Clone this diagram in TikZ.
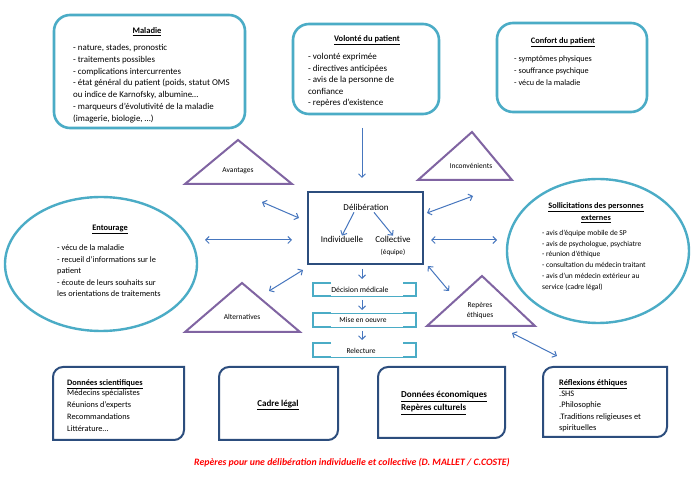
\documentclass[tikz,border=0pt]{standalone}
\usepackage{fontspec}
\setmainfont{Carlito}
\usetikzlibrary{arrows.meta,shapes.geometric}
\definecolor{myteal}{RGB}{75,172,198}
\definecolor{mypurple}{RGB}{128,100,162}
\definecolor{mynavy}{RGB}{44,77,125}
\definecolor{myblue}{RGB}{70,118,190}
\newcommand{\fsz}[1]{\fontsize{#1}{#1}\selectfont}
\newcommand{\txtlines}[6]{%
  \foreach \t [count=\i] in {#6} \node[txt, font=\fsz{#5}] (#1\i) at (#2, #3+\i*#4-#4) {\t};}
\newcommand{\tlbrbox}[4]{%
  \draw[botbox] (#1,#4) -- (#1,#2+10) .. controls (#1,#2+4.5) and (#1+4.5,#2) .. (#1+10,#2)
   -- (#3,#2) -- (#3,#4-10) .. controls (#3,#4-4.5) and (#3-4.5,#4) .. (#3-10,#4) -- cycle;}
\newcommand{\brk}[4]{% x1 x2 y1 y2
  \draw[brthick] (#1+18,#3) -- (#1,#3) -- (#1,#4) -- (#1+18,#4);
  \draw[brthick] (#2-13,#3) -- (#2,#3) -- (#2,#4) -- (#2-13,#4);
  \draw[brthin] (#1+18,#4) -- (#2-13,#4);}
\begin{document}
\begin{tikzpicture}[x=1pt,y=-1pt,
  topbox/.style={draw=myteal, line width=2.6pt, rounded corners=16pt, inner sep=0pt},
  ell/.style={draw=myteal, line width=2.4pt, ellipse, inner sep=0pt},
  tri/.style={draw=mypurple, line width=2pt, line join=miter},
  botbox/.style={draw=mynavy, line width=2pt},
  brthick/.style={draw=myteal, line width=1.8pt},
  brthin/.style={draw=myteal, line width=0.6pt},
  arr/.style={draw=myblue, line width=1pt, -{Straight Barb[length=3.5pt,width=7pt]}},
  darr/.style={draw=myblue, line width=1pt, {Straight Barb[length=3.5pt,width=7pt]}-{Straight Barb[length=3.5pt,width=7pt]}},
  txt/.style={inner sep=0pt, anchor=base west},
  ctxt/.style={inner sep=0pt, anchor=base},
  lbl/.style={inner sep=0pt, font=\fsz{7.5}},
]
\useasboundingbox (0,0) rectangle (697,486);
\fill[white] (0,0) rectangle (697,486);

% top boxes
\node[topbox, minimum width=191pt, minimum height=113pt] (maladie) at (149.5,71.5) {};
\node[topbox, minimum width=146pt, minimum height=90pt] (volonte) at (366,69) {};
\node[topbox, minimum width=150pt, minimum height=89pt] (confort) at (572,67.5) {};

\node[ctxt, font=\fsz{8.5}] (tmal) at (147,33.8) {\underline{\textbf{Maladie}}};
\txtlines{mal}{73}{50.9}{11.7}{8.9}{{- nature, stades, pronostic},{- traitements possibles},{- complications intercurrentes},{- état général du patient (poids, statut OMS},{ou indice de Karnofsky, albumine…},{- marqueurs d’évolutivité de la maladie},{(imagerie, biologie, …)}}

\node[ctxt, font=\fsz{8.5}] (tvol) at (367,41.8) {\underline{\textbf{Volonté du patient}}};
\txtlines{vol}{308}{59.9}{11.5}{9}{{- volonté exprimée},{- directives anticipées},{- avis de la personne de},{confiance},{- repères d’existence}}

\node[ctxt, font=\fsz{8.4}] (tcon) at (563,43.8) {\underline{\textbf{Confort du patient}}};
\txtlines{con}{514}{61.7}{12}{8.2}{{- symptômes physiques},{- souffrance psychique},{- vécu de la maladie}}

% ellipses
\node[ell, minimum width=192pt, minimum height=134pt] (entourage) at (101,264) {};
\node[ctxt, font=\fsz{8.4}] (tent) at (110,230.8) {\underline{\textbf{Entourage}}};
\txtlines{ent}{57}{250.7}{11.5}{8.3}{{- vécu de la maladie},{- recueil d’informations sur le},{patient},{- écoute de leurs souhaits sur},{les orientations de traitements}}

\node[ell, minimum width=182pt, minimum height=144pt] (sollic) at (598,251) {};
\node[ctxt, font=\fsz{8.3}] (tsol1) at (596,208.7) {\underline{\textbf{Sollicitations des personnes}}};
\node[ctxt, font=\fsz{8.3}] (tsol2) at (596,220.7) {\underline{\textbf{externes}}};
\txtlines{sol}{542}{235.4}{10.8}{7.5}{{- avis d’équipe mobile de SP},{- avis de psychologue, psychiatre},{- réunion d’éthique},{- consultation du médecin traitant},{- avis d’un médecin extérieur au},{service (cadre légal)}}

% triangles
\draw[tri] (238,140) -- (185,184) -- (292,184) -- cycle;
\node[lbl] (avant) at (238,171) {Avantages};
\draw[tri] (472,132) -- (418,180) -- (512,180) -- cycle;
\node[lbl] (incon) at (471,166) {Inconvénients};
\draw[tri] (242,283) -- (185,332) -- (300,332) -- cycle;
\node[lbl] (alter) at (242,317) {Alternatives};
\draw[tri] (482,276) -- (427,326) -- (535,326) -- cycle;
\node[ctxt, font=\fsz{7.5}] (rep1) at (480,307.5) {Repères};
\node[ctxt, font=\fsz{7.5}] (rep2) at (480,317.5) {éthiques};

% central box
\node[draw=mynavy, line width=2.2pt, minimum width=115pt, minimum height=72pt, inner sep=0pt] (delib) at (365.5,228) {};
\node[inner sep=0pt, font=\fsz{9}] (tdel) at (366,207) {Délibération};
\node[inner sep=0pt, font=\fsz{9}] (indiv) at (342,239) {Individuelle};
\node[inner sep=0pt, font=\fsz{9}] (collec) at (393,239) {Collective};
\node[inner sep=0pt, font=\fsz{7.2}] (equipe) at (393,252) {(équipe)};
\draw[arr] (tdel.south) ++(-12,2) coordinate (d1) -- (indiv.north);
\draw[arr] (tdel.south) ++(8,2) coordinate (d2) -- (collec.north);

% bracket boxes
\brk{313}{416}{283}{296}
\node[lbl, font=\fsz{7.8}] (decision) at (360,290) {Décision médicale};
\brk{313}{416}{313}{327}
\draw[brthin] (331,313) -- (403,313);
\node[lbl] (mise) at (363,320) {Mise en oeuvre};
\brk{313}{416}{343}{357}
\node[lbl] (relect) at (361,351) {Relecture};

% vertical arrows
\coordinate (vtop) at (362,128);
\coordinate (vbot) at (362,178);
\draw[arr] (vtop) -- (vbot);
\coordinate (a1) at (362,269); \coordinate (a2) at (362,279);
\draw[arr] (a1) -- (a2);
\coordinate (b1) at (362,300); \coordinate (b2) at (362,310);
\draw[arr] (b1) -- (b2);
\coordinate (c1) at (362,331); \coordinate (c2) at (362,340);
\draw[arr] (c1) -- (c2);

% double arrows
\coordinate (p1) at (262,202); \coordinate (p2) at (299,218);
\draw[darr] (p1) -- (p2);
\coordinate (q1) at (205,240); \coordinate (q2) at (292,240);
\draw[darr] (q1) -- (q2);
\coordinate (r1) at (269,291); \coordinate (r2) at (303,270);
\draw[darr] (r1) -- (r2);
\coordinate (s1) at (427,213); \coordinate (s2) at (473,196);
\draw[darr] (s1) -- (s2);
\coordinate (t1) at (431,240); \coordinate (t2) at (497,240);
\draw[darr] (t1) -- (t2);
\coordinate (u1) at (428,266); \coordinate (u2) at (449,291);
\draw[darr] (u1) -- (u2);
\coordinate (w1) at (512,333); \coordinate (w2) at (557,356);
\draw[darr] (w1) -- (w2);

% bottom boxes
\tlbrbox{53}{367}{184}{440}
\node[txt, font=\fsz{8.3}] (tds) at (67,385.7) {\underline{\textbf{Données scientifiques}}};
\txtlines{ds}{67}{396}{11.8}{8.3}{{Médecins spécialistes},{Réunions d’experts},{Recommandations},{Littérature…}}

\tlbrbox{219}{367}{338}{440}
\node[inner sep=0pt, font=\fsz{9}] (cadre) at (278,405) {\underline{\textbf{Cadre légal}}};

\tlbrbox{378}{367}{505}{438}
\node[txt, font=\fsz{9.1}] (deco) at (401,398) {\underline{\textbf{Données économiques}}};
\node[txt, font=\fsz{9.1}] (rcul) at (401,411) {\underline{\textbf{Repères culturels}}};

\tlbrbox{543}{367}{667}{437}
\node[txt, font=\fsz{8.4}] (tref) at (559,385.7) {\underline{\textbf{Réflexions éthiques}}};
\txtlines{ref}{559}{396.7}{11.3}{8.4}{{.SHS},{.Philosophie},{.Traditions religieuses et},{spirituelles}}

% caption
\node[inner sep=0pt, text=red, font=\fsz{9.8}\bfseries\itshape] (caption) at (352,463) {Repères pour une délibération individuelle et collective (D. MALLET / C.COSTE)};
\end{tikzpicture}
\end{document}
